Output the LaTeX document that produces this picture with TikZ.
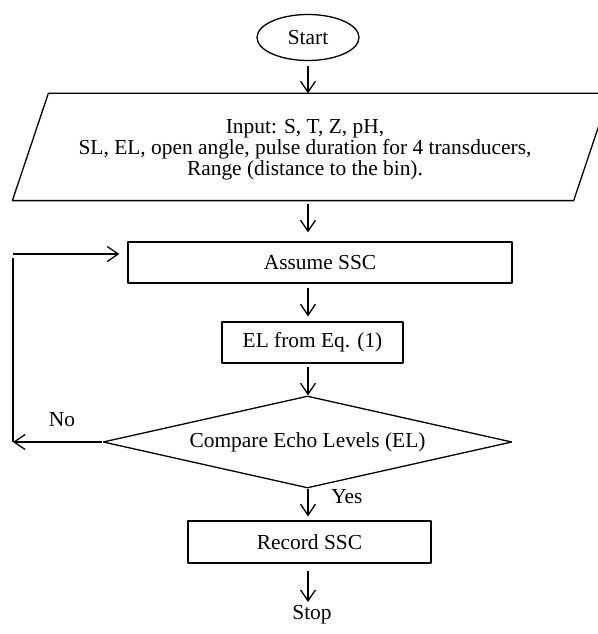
\documentclass[tikz,border=0pt]{standalone}
\usepackage{fontspec}
\setmainfont{Liberation Serif}
\usetikzlibrary{shapes.geometric,arrows.meta}

\begin{document}
\begin{tikzpicture}[>={Straight Barb[length=11bp,width=15bp]},line join=bevel,
  box/.style={draw,rectangle,inner sep=0pt},]
  \pgfsetlinewidth{1.3bp}
\fontsize{21.4bp}{21bp}\selectfont%
\pgfsetcolor{black}
  \useasboundingbox (0bp,0bp) rectangle (598bp,634bp);
  \clip (0bp,0bp) rectangle (598bp,634bp);
  % Node: start
  \node[draw,ellipse,minimum width=102bp,minimum height=46bp,inner sep=0pt] (start) at (308.0bp,596.5bp) {Start};
  % Node: input
  \node[rectangle,minimum width=560bp,minimum height=106bp,inner sep=0pt,align=center] (input) at (305.0bp,487.0bp)
    {};
  \draw ([xshift=-12bp]input.south west) -- ([xshift=24bp]input.north west) -- ([xshift=24bp]input.north east) -- ([xshift=-12bp]input.south east) -- cycle;
  \node[align=center] (inputtext) at ([yshift=-3bp]input.center)
    {Input: S, T, Z, pH,\\SL, EL, open angle, pulse duration for 4 transducers,\\Range (distance to the bin).};
  % Node: assume
  \node[box,minimum width=384bp,minimum height=41bp] (assume) at (320.0bp,371.5bp) {Assume SSC};
  % Node: el
  \node[box,minimum width=181bp,minimum height=41bp] (el) at (312.5bp,291.5bp) {EL from Eq. (1)};
  % Node: compare
  \node[draw,diamond,aspect=4.45,minimum width=409bp,minimum height=92bp,inner sep=0pt] (compare) at (307.5bp,192.0bp) {Compare Echo Levels (EL)};
  % Node: record
  \node[box,minimum width=243bp,minimum height=42bp] (record) at (309.5bp,92.0bp) {Record SSC};
  % Node: stop
  \node[inner sep=3bp] (stop) at (312.0bp,19.0bp) {Stop};
  % Edge: start -> input
  \draw [->,shorten <=5bp] (start.south) -- (start.south |- input.north);
  % Edge: input -> assume
  \draw [->,shorten <=3bp,shorten >=9bp] (input.south -| start) -- (assume.north -| start);
  % Edge: assume -> el
  \draw [->,shorten <=4bp,shorten >=5bp] (assume.south -| start) -- (el.north -| start);
  % Edge: el -> compare
  \draw [->,shorten <=3bp] (el.south -| start) -- (compare.north -| start);
  % Edge: compare -> record
  \draw [->,shorten >=4bp] (compare.south -| start) -- (record.north -| start);
  \node (yes) at (347.0bp,137.0bp) {Yes};
  % Edge: record -> stop
  \draw [->,shorten <=7bp] (record.south -| start) -- (stop.north -| start);
  % Edge: compare -> assume
  \coordinate (nocorner) at (13.0bp,192.0bp);
  \coordinate (upcorner) at (13.0bp,376.0bp);
  \coordinate (backcorner) at (13.0bp,380.0bp);
  \draw [->] (compare.west) -- (nocorner);
  \draw (nocorner) -- (upcorner);
  \draw [->,shorten >=8bp] (backcorner) -- (backcorner -| assume.west);
  \node (no) at (62.0bp,214.0bp) {No};
%
\end{tikzpicture}
\end{document}
